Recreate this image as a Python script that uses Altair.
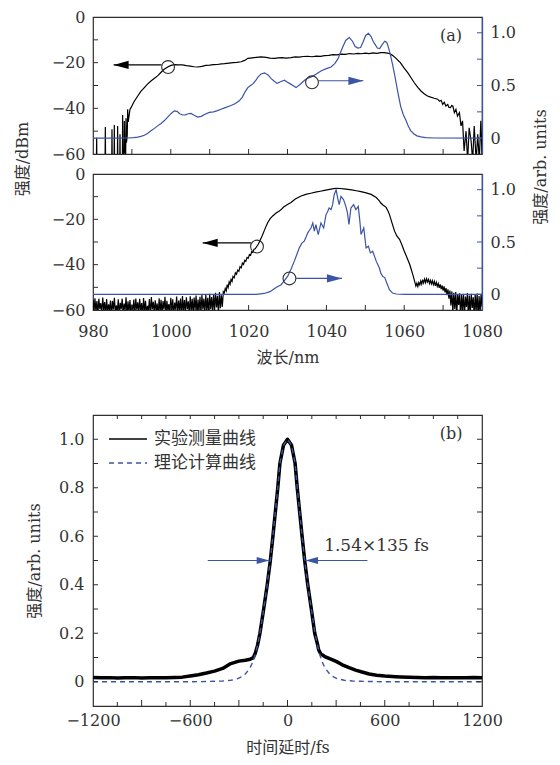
import altair as alt
import numpy as np
import pandas as pd

FONT = "DejaVu Serif, Noto Sans CJK SC"
CJK = "Noto Sans CJK SC"
BLUE = "#3b54a3"
INK = "#2e2e2e"
TXT = "#333333"

W = 389
H1, H2, HB = 137, 136, 291
SPACER_H = 65

# ---------------- panel (a) upper: broadened spectrum ----------------
p1_black = [
    (980.0, -68), (980.85, -68), (980.94, -52.9), (981.03, -68),
    (983.08, -68), (983.17, -48.2), (983.26, -68),
    (984.8, -68), (984.88, -49.2), (984.97, -68),
    (985.4, -68), (985.48, -47.3), (985.56, -68),
    (986.25, -68), (986.33, -47.7), (986.41, -68),
    (986.86, -68), (986.94, -51.4), (987.02, -68),
    (987.54, -68), (987.62, -42.9), (987.7, -62),
    (987.97, -64), (988.05, -45.5), (988.15, -58),
    (988.4, -60), (988.48, -44.3), (988.6, -55),
    (988.8, -52), (988.91, -40.4), (989.05, -46),
    (989.3, -43), (989.5, -40.5), (989.77, -39.7),
    (990.5, -37.2), (991.5, -34.6), (992.3, -32.6), (993.2, -30.9), (994.0, -29.4),
    (994.9, -28.0), (995.8, -26.8), (996.6, -25.8), (997.5, -24.2), (998.3, -22.9),
    (999.2, -21.9), (1000.05, -21.2), (1001, -20.9), (1002, -21.0), (1003, -21.0),
    (1004, -21.3), (1005, -21.5), (1006, -21.8), (1006.9, -21.9), (1008, -21.6),
    (1009, -21.2), (1010, -21.1), (1011, -20.9), (1012, -20.8), (1013, -20.5),
    (1013.8, -20.4), (1015, -20.2), (1016, -20.0), (1017, -19.9), (1018.1, -19.6),
    (1019, -19.0), (1019.8, -18.1), (1021, -17.9), (1022, -17.7), (1023.2, -17.5),
    (1024.5, -17.7), (1025.5, -18.0), (1026.6, -18.1), (1027.6, -17.9), (1028.6, -17.8),
    (1029.7, -18.0), (1030.9, -17.8), (1032, -17.5), (1033, -17.6), (1034, -17.3),
    (1035.2, -17.2), (1036.3, -17.4), (1037.4, -17.1), (1038.5, -17.2), (1039.5, -16.9),
    (1040.6, -16.8), (1041.7, -16.5), (1042.7, -16.6), (1043.8, -16.3), (1044.9, -16.4),
    (1046, -16.0), (1047, -16.2), (1048, -15.9), (1049, -16.1), (1050, -15.8),
    (1051, -16.0), (1052, -15.7), (1053, -15.9), (1054, -15.6), (1054.9, -15.6),
    (1055.6, -15.8), (1056.2, -16.0), (1057, -16.8), (1057.9, -18.1), (1059, -20.0),
    (1060, -22.4), (1060.9, -24.4), (1061.8, -26.7), (1062.6, -28.8), (1063.5, -30.8),
    (1064.3, -32.4), (1065.2, -33.7), (1066, -34.6), (1066.8, -35.1), (1067.7, -35.6),
    (1068.6, -36.0), (1069.1, -36.9), (1069.5, -36.5), (1069.9, -38.3), (1070.3, -37.3),
    (1070.7, -39.0), (1071.2, -38.3), (1071.5, -39.6), (1071.9, -39.7), (1072.2, -38.8),
    (1072.5, -39.0), (1072.9, -41.9), (1073.3, -40.4), (1073.7, -43.4), (1074.2, -41.9),
    (1074.6, -47.7), (1075.0, -45.5), (1075.4, -58.7), (1075.9, -50.0), (1076.3, -63),
    (1076.7, -48.5), (1077.2, -54.3), (1077.6, -63), (1078.0, -47.7), (1078.5, -63),
    (1078.9, -51.4), (1079.3, -63), (1079.7, -45.5), (1080.0, -60),
]

p1_blue = [
    (980, 0.0), (986, 0.0), (989, 0.002), (990.5, 0.005), (991.5, 0.01), (992.3, 0.017),
    (993.2, 0.028), (994, 0.045), (994.9, 0.07), (995.8, 0.093), (996.6, 0.117),
    (997.5, 0.14), (998.3, 0.165), (999.2, 0.2), (1000.1, 0.235), (1000.9, 0.26),
    (1001.6, 0.255), (1002.3, 0.232), (1003, 0.22), (1003.7, 0.222), (1004.5, 0.232),
    (1005.2, 0.235), (1006, 0.218), (1006.9, 0.2), (1007.8, 0.207), (1008.8, 0.228),
    (1009.9, 0.245), (1011, 0.25), (1012, 0.262), (1012.9, 0.275), (1014, 0.29),
    (1015.5, 0.31), (1016.6, 0.33), (1017.6, 0.355), (1018.4, 0.39), (1019.1, 0.44),
    (1019.8, 0.48), (1020.5, 0.5), (1021.1, 0.515), (1021.8, 0.545), (1022.4, 0.58),
    (1023.2, 0.61), (1024.1, 0.62), (1025, 0.6), (1025.8, 0.565), (1026.6, 0.54),
    (1027.3, 0.52), (1028.2, 0.535), (1029.2, 0.55), (1030, 0.53), (1030.5, 0.52),
    (1031.4, 0.5), (1032.2, 0.48), (1033.2, 0.51), (1034.4, 0.55), (1035.2, 0.57),
    (1036.1, 0.58), (1037.4, 0.61), (1038.7, 0.64), (1040, 0.66), (1041.2, 0.675),
    (1042.2, 0.71), (1043, 0.755), (1043.6, 0.81), (1044.2, 0.865), (1045, 0.93),
    (1045.9, 0.955), (1046.7, 0.92), (1047.4, 0.87), (1048.1, 0.855), (1048.8, 0.86),
    (1049.5, 0.92), (1050.1, 0.975), (1050.8, 0.995), (1051.5, 0.965), (1052.0, 0.92),
    (1052.5, 0.89), (1053.1, 0.855), (1053.7, 0.85), (1054.3, 0.885), (1055, 0.92),
    (1055.5, 0.91), (1055.8, 0.88), (1056.4, 0.8), (1057, 0.7), (1057.5, 0.61),
    (1058.3, 0.45), (1059.1, 0.3), (1059.8, 0.22), (1060.5, 0.165), (1061.1, 0.11),
    (1061.7, 0.07), (1062.5, 0.04), (1063.3, 0.022), (1064.3, 0.012), (1065.5, 0.006),
    (1067.7, 0.002), (1080, 0.0),
]

# ---------------- panel (a) lower: seed spectrum ----------------
p2_noise_start = 980.0
p2_noise_step = 0.25
p2_noise_left = [
    -55.5, -61, -54.8, -60.5, -56, -62, -55, -59.5, -57, -61.5,
    -54.5, -60, -56.5, -62, -55.2, -61, -57.5, -60.2, -55.8, -62.5,
    -56, -59.8, -54.6, -61.2, -58, -60.6, -55.3, -62, -56.8, -59.6,
    -55, -61.4, -57.2, -60, -54.4, -62.2, -56.2, -60.8, -55.6, -61.8,
    -57.6, -60.2, -55.4, -62.4, -54.9, -59.9, -56.6, -61.1, -55.1, -60.4,
    -56.9, -62.1, -54.7, -60.7, -55.9, -61.6, -58.2, -60.1, -55.2, -62.3,
    -54.3, -59.7, -56.4, -61.3, -55.7, -60.5, -57.1, -62.6, -54.8, -60.9,
    -55.5, -61.7, -56.1, -59.8, -54.2, -62, -55.9, -60.3, -57.4, -61.2,
    -54.6, -60.6, -55.3, -62.2, -56.7, -59.9, -54.1, -61.5, -55.8, -60.2,
    -54.9, -62.4, -53.8, -60.8, -55.6, -61.1, -54.4, -59.6, -56.2, -62,
    -53.9, -60.4, -55.1, -61.9, -54.5, -60, -53.6, -62.3, -55.4, -60.7,
    -54.2, -61.3, -53.4, -59.8, -55, -61.6, -53.1, -60.2, -54.6, -62.1,
    -52.8, -59.5, -54.3, -61, -53.2, -60.4, -52.4, -58.9, -53.7, -61.4,
    -52.1, -59.2, -53.5, -58.6, -51.9,
]

p2_black_rest = [
    (1013.75, -52.5), (1014, -50.5), (1014.25, -51.5), (1014.5, -48.8), (1014.75, -50),
    (1015, -47.6), (1015.25, -48.6), (1015.5, -46.5), (1015.75, -47.4), (1016, -45.2),
    (1016.3, -45.8), (1016.6, -43.6), (1016.9, -44.2), (1017.2, -42.4), (1017.5, -42.9),
    (1017.8, -40.9), (1018.1, -41.4), (1018.4, -39.3), (1018.7, -39.9), (1019, -38.1),
    (1019.3, -38.5), (1019.6, -36.8), (1019.9, -37.2), (1020.2, -35.6), (1020.5, -35.9),
    (1020.8, -34.3), (1021.1, -34.6), (1021.4, -33.2), (1021.7, -33.0), (1022, -32.2),
    (1022.4, -31.2), (1022.8, -29.9), (1023.2, -28.4), (1023.6, -26.8), (1024, -25.1),
    (1024.5, -23.0), (1024.9, -21.5), (1025.5, -19.8), (1026.2, -18.5), (1027, -17.3),
    (1027.9, -16.3), (1028.3, -15.8), (1029, -14.6), (1030, -13.5), (1030.9, -12.6),
    (1032, -11.0), (1033.5, -9.7), (1034.7, -9.0), (1036, -8.5), (1037.2, -8.0),
    (1038.4, -7.6), (1039.5, -7.2), (1040.5, -6.9), (1041.5, -6.6), (1042.5, -6.3),
    (1043.5, -6.4), (1044.5, -6.6), (1045.5, -6.8), (1046.5, -7.0), (1047.7, -7.4),
    (1048.9, -7.8), (1050.2, -8.3), (1051.5, -9.0), (1052.8, -10.4), (1053.5, -11.6),
    (1054, -12.8), (1054.6, -13.8), (1055.3, -14.6), (1055.8, -16.2), (1056.2, -17.8),
    (1056.8, -21.2), (1057.5, -25.1), (1058.1, -27.3), (1058.8, -28.8), (1059.4, -31.2),
    (1060, -34.0), (1060.7, -36.8), (1061.4, -39.8), (1061.8, -42.0), (1062.2, -44.3),
    (1062.6, -46.8), (1063, -49.4), (1063.25, -48.2), (1063.5, -49.6), (1063.75, -47.9),
    (1064, -48.9), (1064.25, -47.2), (1064.5, -48.6), (1064.75, -46.6), (1065, -48.1),
    (1065.25, -46.4), (1065.5, -47.9), (1065.75, -46.2), (1066, -47.6), (1066.25, -46.5),
    (1066.5, -48.3), (1066.75, -46.9), (1067, -48.5), (1067.25, -47.1), (1067.5, -48.8),
    (1067.75, -47.4), (1068, -49.3), (1068.25, -47.8), (1068.5, -49.6), (1068.75, -48.3),
    (1069, -50.2), (1069.25, -48.7), (1069.5, -50.8), (1069.75, -49.2), (1070, -51.5),
    (1070.25, -49.6), (1070.5, -52.2), (1070.75, -50.3), (1071, -53.5), (1071.25, -50.9),
    (1071.5, -55.0), (1071.75, -51.4), (1072, -58), (1072.25, -51.8), (1072.5, -61),
    (1072.75, -52.4), (1073, -59.5), (1073.25, -52.1), (1073.5, -62.5), (1073.75, -53),
    (1074, -57.8), (1074.25, -52.6), (1074.5, -63), (1074.75, -53.2), (1075, -60.2),
    (1075.25, -52.9), (1075.5, -62.2), (1075.75, -54.1), (1076, -58.7), (1076.25, -52.5),
    (1076.5, -63), (1076.75, -53.6), (1077, -61.4), (1077.25, -52.8), (1077.5, -59.1),
    (1077.75, -54.4), (1078, -62.8), (1078.25, -53.1), (1078.5, -60.5), (1078.75, -52.7),
    (1079, -63), (1079.25, -53.8), (1079.5, -61.6), (1079.75, -52.9), (1080, -58.5),
]

p2_blue = [
    (980, 0.0), (1022, 0.0), (1024, 0.008), (1025.5, 0.025), (1026.5, 0.05), (1027.5, 0.075),
    (1028.3, 0.089), (1029.2, 0.13), (1030.05, 0.174), (1030.9, 0.24), (1031.75, 0.317),
    (1032.4, 0.38), (1033.03, 0.444), (1033.7, 0.49), (1034.3, 0.508), (1034.8, 0.55),
    (1035.2, 0.587), (1035.6, 0.61), (1036.04, 0.634), (1036.5, 0.682), (1036.9, 0.603),
    (1037.3, 0.667), (1037.9, 0.571), (1038.6, 0.682), (1039.3, 0.634), (1039.9, 0.762),
    (1040.3, 0.79), (1040.7, 0.825), (1041.2, 0.81), (1041.6, 0.857), (1042.0, 0.952),
    (1042.5, 1.0), (1042.9, 0.92), (1043.3, 0.857), (1043.75, 0.936), (1044.4, 0.905),
    (1045.0, 0.841), (1045.4, 0.78), (1045.8, 0.667), (1046.3, 0.825), (1047.0, 0.857),
    (1047.6, 0.81), (1048.2, 0.841), (1048.6, 0.7), (1048.9, 0.571), (1049.6, 0.634),
    (1050.2, 0.444), (1050.8, 0.46), (1051.3, 0.396), (1051.9, 0.412), (1052.8, 0.317),
    (1053.6, 0.254), (1054.0, 0.2), (1054.5, 0.17), (1055.0, 0.16), (1055.5, 0.11),
    (1056.2, 0.045), (1057, 0.012), (1058, 0.003), (1060, 0.0), (1080, 0.0),
]

# ---------------- panel (b): autocorrelation ----------------
b_measured = [
    (-1200, 0.018), (-1150, 0.016), (-1100, 0.017), (-1050, 0.015), (-1000, 0.016),
    (-950, 0.017), (-900, 0.015), (-850, 0.016), (-800, 0.017), (-750, 0.017),
    (-700, 0.018), (-650, 0.019), (-600, 0.024), (-550, 0.029), (-500, 0.036),
    (-450, 0.044), (-400, 0.055), (-350, 0.075), (-300, 0.085), (-260, 0.089),
    (-230, 0.093), (-212, 0.098), (-200, 0.115), (-185, 0.15), (-170, 0.2),
    (-147, 0.3), (-125, 0.4), (-106, 0.5), (-90, 0.6), (-75, 0.7), (-60, 0.8),
    (-47, 0.9), (-25, 0.975), (0, 1.0), (25, 0.975), (47, 0.9), (60, 0.8), (75, 0.7),
    (90, 0.6), (106, 0.5), (125, 0.4), (147, 0.3), (168, 0.2), (185, 0.155),
    (192, 0.132), (205, 0.115), (230, 0.104), (260, 0.095), (300, 0.084), (338, 0.07),
    (380, 0.058), (420, 0.048), (460, 0.04), (504, 0.032), (550, 0.027), (600, 0.024),
    (668, 0.021), (700, 0.02), (750, 0.019), (800, 0.018), (850, 0.017), (900, 0.018),
    (950, 0.017), (1000, 0.016), (1050, 0.017), (1100, 0.016), (1150, 0.018), (1200, 0.017),
]
b_theory = [
    (-1200, 0.0), (-800, 0.0), (-600, 0.0), (-500, 0.001), (-450, 0.002), (-400, 0.003),
    (-350, 0.006), (-310, 0.012), (-284, 0.02), (-260, 0.032), (-233, 0.055), (-215, 0.08),
    (-200, 0.11), (-185, 0.15), (-170, 0.2), (-147, 0.3), (-125, 0.4), (-106, 0.5),
    (-90, 0.6), (-75, 0.7), (-60, 0.8), (-47, 0.9), (-25, 0.975), (0, 1.0), (25, 0.975),
    (47, 0.9), (60, 0.8), (75, 0.7), (90, 0.6), (106, 0.5), (125, 0.4), (147, 0.3),
    (170, 0.2), (185, 0.15), (200, 0.11), (215, 0.08), (233, 0.055), (260, 0.032),
    (284, 0.02), (310, 0.012), (350, 0.006), (400, 0.003), (450, 0.002), (500, 0.001),
    (600, 0.0), (800, 0.0), (1200, 0.0),
]

legend_labels = ["实验测量曲线", "理论计算曲线"]
fwhm_label = "1.54×135 fs"

# tick positions
a_x_labels = [980, 1000, 1020, 1040, 1060, 1080]
a_x_minor = [990, 1000, 1010, 1020, 1030, 1040, 1050, 1060, 1070]
a_left_labels = [-60, -40, -20, 0]
a_left_minor = [-50, -40, -30, -20, -10]
a_right_labels = [0, 0.5, 1.0]
a_right_minor = [0, 0.25, 0.5, 0.75, 1.0]
b_x_labels = [-1200, -600, 0, 600, 1200]
b_x_major = [-900, -600, -300, 0, 300, 600, 900]
b_x_minor = [-1050, -750, -450, -150, 150, 450, 750, 1050]
b_y_labels = [0, 0.2, 0.4, 0.6, 0.8, 1.0]
b_y_minor = [0, 0.1, 0.2, 0.3, 0.4, 0.5, 0.6, 0.7, 0.8, 0.9, 1.0]

# annotation anchors (data coordinates)
p1_circ_black = (999.3, -21.9)
p1_arrow_black = (985.3, 997.6, -21.0)   # tip, tail, y
p1_circ_blue = (1036.3, 0.53)
p1_arrow_blue = (1049.5, 1037.9, 0.545)
p2_circ_black = (1022.16, -32.0)
p2_arrow_black = (1008.2, 1020.6, -30.4)
p2_circ_blue = (1030.5, 0.152)
p2_arrow_blue = (1044.0, 1032.2, 0.152)
b_arrow_left = (-112, -492, 0.5)
b_arrow_right = (110, 493, 0.5)
b_text_pos = (226, 0.56)

HEAD_L = "M0,0L2,-0.55L2,0.55Z"
HEAD_R = "M0,0L-2,-0.55L-2,0.55Z"
LABEL_NUM = "datum.value == 0 ? '0' : format(datum.value, '.1f')"

xs = alt.Scale(domain=[980, 1080], nice=False, zero=False)
yl = alt.Scale(domain=[-60, 0], nice=False, zero=False)
yr = alt.Scale(domain=[-0.15, 1.15], nice=False, zero=False)
xb = alt.Scale(domain=[-1200, 1200], nice=False, zero=False)
yb = alt.Scale(domain=[-0.1, 1.1], nice=False, zero=False)

# axes (the same definition is repeated in every layer sharing a scale)
LEFT_AXIS = alt.Axis(values=a_left_labels, title=None, ticks=False, tickSize=0,
                     domain=False, labelPadding=8, format="d")
RIGHT_AXIS = alt.Axis(orient="right", values=a_right_labels, title=None, ticks=False,
                      tickSize=0, domain=True, domainColor=BLUE, domainWidth=1.3,
                      labelPadding=8, labelExpr=LABEL_NUM)
X_AXIS_P2 = alt.Axis(values=a_x_labels, format="d", title="波长/nm", ticks=False, tickSize=0,
                     domain=False, labelPadding=13, titlePadding=10)
BX_AXIS = alt.Axis(values=b_x_labels, format="d", title="时间延时/fs", ticks=False, tickSize=0,
                   domain=False, labelPadding=6, titlePadding=11)
BY_AXIS = alt.Axis(values=b_y_labels, labelExpr=LABEL_NUM, title="强度/arb. units", ticks=False,
                   tickSize=0, domain=False, labelPadding=9, titlePadding=16)


def pairs(p, a, b):
    return pd.DataFrame(p, columns=[a, b])


def text_layer(label, x, y, size=16, angle=0, align="center", font=FONT):
    return alt.Chart(pd.DataFrame({"t": [label]})).mark_text(
        font=font, fontSize=size, color=TXT, angle=angle, align=align, baseline="middle"
    ).encode(text="t:N", x=alt.value(x), y=alt.value(y))


def X(field, scale, axis):
    return alt.X(field, scale=scale, axis=axis)


def Y(field, scale, axis):
    return alt.Y(field, scale=scale, axis=axis)


def arrow(tip, tail, y, xscale, xaxis, yscale, yaxis, color, head, size):
    line = alt.Chart(pd.DataFrame({"a": [tip], "b": [tail], "v": [y]})).mark_rule(
        color=color, strokeWidth=1.2
    ).encode(x=X("a:Q", xscale, xaxis), x2="b:Q", y=Y("v:Q", yscale, yaxis))
    hd = alt.Chart(pd.DataFrame({"a": [tip], "v": [y]})).mark_point(
        shape=head, size=size, filled=True, color=color, opacity=1, strokeWidth=0
    ).encode(x=X("a:Q", xscale, xaxis), y=Y("v:Q", yscale, yaxis))
    return [line, hd]


def circle(pos, xscale, xaxis, yscale, yaxis):
    return alt.Chart(pd.DataFrame({"a": [pos[0]], "v": [pos[1]]})).mark_point(
        shape="circle", filled=False, size=165, color=INK, strokeWidth=1.1, opacity=1
    ).encode(x=X("a:Q", xscale, xaxis), y=Y("v:Q", yscale, yaxis))


def top_panel(black_df, blue_df, cb, ab, cr, ar, height, xaxis, extra):
    black_line = alt.Chart(black_df).mark_line(
        color="black", strokeWidth=1.2, clip=True
    ).encode(x=X("nm:Q", xs, xaxis), y=Y("v:Q", yl, LEFT_AXIS))
    lt = alt.Chart(pd.DataFrame({"v": a_left_minor})).mark_rule(color=INK).encode(
        y=Y("v:Q", yl, LEFT_AXIS), x=alt.value(0), x2=alt.value(5))
    bt = alt.Chart(pd.DataFrame({"nm": a_x_minor})).mark_rule(color=INK).encode(
        x=X("nm:Q", xs, xaxis), y=alt.value(height), y2=alt.value(height - 5))
    left = alt.layer(black_line, lt, bt, circle(cb, xs, xaxis, yl, LEFT_AXIS),
                     *arrow(ab[0], ab[1], ab[2], xs, xaxis, yl, LEFT_AXIS, "black", HEAD_L, 225),
                     *extra)

    blue_line = alt.Chart(blue_df).mark_line(color=BLUE, strokeWidth=1.2).encode(
        x=X("nm:Q", xs, xaxis), y=Y("v:Q", yr, RIGHT_AXIS))
    rt = alt.Chart(pd.DataFrame({"v": a_right_minor})).mark_rule(color=BLUE).encode(
        y=Y("v:Q", yr, RIGHT_AXIS), x=alt.value(W - 5), x2=alt.value(W))
    right = alt.layer(blue_line, rt, circle(cr, xs, xaxis, yr, RIGHT_AXIS),
                      *arrow(ar[0], ar[1], ar[2], xs, xaxis, yr, RIGHT_AXIS, BLUE, HEAD_R, 225))
    return alt.layer(left, right).resolve_scale(y="independent").properties(
        width=W, height=height)


p1 = top_panel(
    pairs(p1_black, "nm", "v"), pairs(p1_blue, "nm", "v"),
    p1_circ_black, p1_arrow_black, p1_circ_blue, p1_arrow_blue, H1, None,
    [text_layer("(a)", 358, 19)],
)

p2_black_df = pd.concat([
    pd.DataFrame({"nm": p2_noise_start + p2_noise_step * np.arange(len(p2_noise_left)),
                  "v": p2_noise_left}),
    pairs(p2_black_rest, "nm", "v"),
], ignore_index=True)

p2 = top_panel(
    p2_black_df, pairs(p2_blue, "nm", "v"),
    p2_circ_black, p2_arrow_black, p2_circ_blue, p2_arrow_blue, H2, X_AXIS_P2,
    [text_layer("强度/dBm", -70, -15, angle=270),
     text_layer("强度/arb. units", W + 59, -7, angle=270)],
)

spacer = alt.Chart(pd.DataFrame({"a": [0]})).mark_point(opacity=0).encode(
    x=alt.value(0), y=alt.value(0)
).properties(width=W, height=SPACER_H, view=alt.ViewBackground(stroke="transparent"))

# ---- panel b ----
meas = alt.Chart(pairs(b_measured, "t", "v")).mark_line(
    color="black", strokeWidth=3.5, strokeJoin="round"
).encode(x=X("t:Q", xb, BX_AXIS), y=Y("v:Q", yb, BY_AXIS))
theo = alt.Chart(pairs(b_theory, "t", "v")).mark_line(
    color=BLUE, strokeWidth=1.4, strokeDash=[5, 4]
).encode(x=X("t:Q", xb, BX_AXIS), y=Y("v:Q", yb, BY_AXIS))

byt = pd.DataFrame({"v": b_y_minor})
b_lt = alt.Chart(byt).mark_rule(color=INK).encode(
    y=Y("v:Q", yb, BY_AXIS), x=alt.value(0), x2=alt.value(5))
b_rt = alt.Chart(byt).mark_rule(color=INK).encode(
    y=Y("v:Q", yb, BY_AXIS), x=alt.value(W - 5), x2=alt.value(W))
b_top = alt.Chart(pd.DataFrame({"t": b_x_major + b_x_minor})).mark_rule(color=INK).encode(
    x=X("t:Q", xb, BX_AXIS), y=alt.value(0), y2=alt.value(4))
b_botM = alt.Chart(pd.DataFrame({"t": b_x_major})).mark_rule(color=INK).encode(
    x=X("t:Q", xb, BX_AXIS), y=alt.value(HB), y2=alt.value(HB - 6))
b_botm = alt.Chart(pd.DataFrame({"t": b_x_minor})).mark_rule(color=INK).encode(
    x=X("t:Q", xb, BX_AXIS), y=alt.value(HB), y2=alt.value(HB - 4))

b_txt = alt.Chart(pd.DataFrame({"t": [b_text_pos[0]], "v": [b_text_pos[1]], "s": [fwhm_label]})).mark_text(
    font=FONT, fontSize=17, color=TXT, align="left", baseline="middle"
).encode(x=X("t:Q", xb, BX_AXIS), y=Y("v:Q", yb, BY_AXIS), text="s:N")

leg_df = pd.DataFrame({"a": [0]})
leg1 = alt.Chart(leg_df).mark_rule(color="black", strokeWidth=1.5).encode(
    x=alt.value(16), x2=alt.value(54), y=alt.value(24))
leg2 = alt.Chart(leg_df).mark_rule(color=BLUE, strokeWidth=1.4, strokeDash=[5, 4]).encode(
    x=alt.value(16), x2=alt.value(54), y=alt.value(48))

pb = alt.layer(
    meas, theo, b_lt, b_rt, b_top, b_botM, b_botm,
    *arrow(b_arrow_left[0], b_arrow_left[1], b_arrow_left[2], xb, BX_AXIS, yb, BY_AXIS, BLUE, HEAD_R, 160),
    *arrow(b_arrow_right[0], b_arrow_right[1], b_arrow_right[2], xb, BX_AXIS, yb, BY_AXIS, BLUE, HEAD_L, 160),
    b_txt, leg1, leg2,
    text_layer(legend_labels[0], 61, 24, size=17, align="left", font=CJK),
    text_layer(legend_labels[1], 61, 48, size=17, align="left", font=CJK),
    text_layer("(b)", 358, 19),
).properties(width=W, height=HB)

chart = alt.vconcat(p1, p2, spacer, pb, spacing=20, bounds="flush").properties(
    padding={"left": 6, "top": 0, "right": 0, "bottom": 0}
).configure_view(
    stroke=INK, strokeWidth=1.2
).configure_axis(
    labelFont=FONT, titleFont=FONT, labelFontSize=16, titleFontSize=16,
    labelColor=TXT, titleColor=TXT, titleFontWeight="normal", grid=False,
    labelFlush=False, labelOverlap=False,
)

chart.save("out.html", embed_options={"renderer": "svg", "actions": False})
